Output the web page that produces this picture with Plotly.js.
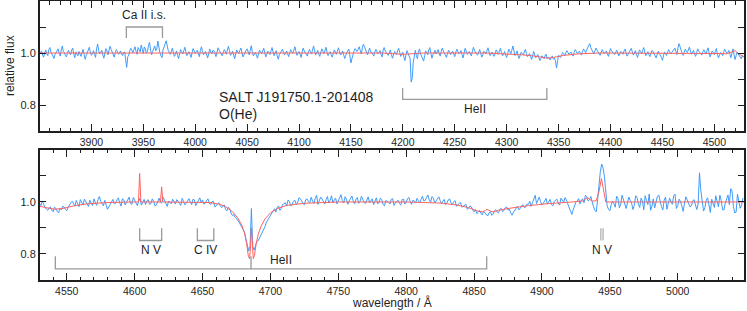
<!DOCTYPE html>
<html>
<head>
<meta charset="utf-8">
<script src="https://cdn.plot.ly/plotly-3.0.1.min.js"></script>
<style>html,body{margin:0;padding:0;background:#fff;}#chart{width:747px;height:311px;}</style>
</head>
<body>
<div id="chart"></div>
<script>
// ---------------- DATA ----------------
// Top panel: observed spectrum, uniform 1 Å sampling starting at 3850 Å
var topObsStart = 3850;
var topObsStep = 1;
var topObsFlux = [
0.995,1.003,1.008,0.992,0.984,1.001,1.012,0.997,0.990,1.013,1.021,1.004,0.996,0.986,0.979,0.995,1.004,1.009,1.016,0.998,0.988,1.012,1.027,1.006,1.001,0.990,0.985,1.002,1.010,0.999,0.993,1.011,1.019,0.996,0.982,1.004,0.998,0.989,1.006,0.994,
0.987,1.001,1.014,0.995,0.976,0.990,1.003,1.012,1.022,1.004,0.991,0.998,1.009,0.994,0.983,1.015,1.035,1.010,0.997,1.003,1.011,0.992,0.980,1.000,1.017,1.008,0.993,1.011,1.026,1.014,1.002,0.991,0.984,1.002,1.013,1.006,0.995,0.999,1.008,0.996,
0.990,1.002,1.004,0.975,0.945,0.985,0.992,1.009,1.018,1.010,1.001,1.013,1.024,1.007,0.995,1.021,1.012,1.004,1.031,1.012,0.998,1.023,1.016,0.999,1.006,1.028,1.041,1.011,0.993,1.006,1.020,1.027,1.009,1.015,1.046,1.019,1.001,0.990,0.982,1.012,
1.028,1.035,1.047,1.022,1.010,1.003,0.995,1.007,1.019,1.001,0.987,0.996,1.008,0.991,0.978,0.997,1.013,1.005,0.996,1.009,1.022,1.004,0.990,0.998,1.005,0.994,0.983,1.002,1.017,1.008,0.999,1.005,1.011,0.997,0.986,1.010,1.024,1.007,0.994,0.999,
1.006,0.993,0.981,0.998,1.015,1.004,0.997,1.010,1.009,0.999,0.986,1.003,1.020,1.011,1.002,0.994,0.989,1.001,1.013,1.006,0.995,1.012,1.026,1.009,0.991,0.997,1.007,0.992,0.978,0.996,1.012,1.004,0.998,1.010,1.019,1.001,0.985,0.993,1.004,1.011,
1.016,1.002,0.993,1.010,1.028,1.006,0.989,0.996,1.003,0.991,0.980,0.998,1.011,1.004,0.997,1.008,1.018,1.000,0.985,0.996,1.007,1.001,0.994,1.009,1.021,1.004,0.990,1.000,1.009,0.989,0.976,0.993,1.002,1.010,1.015,1.003,0.992,0.999,1.008,0.997,
0.986,1.001,1.013,1.005,0.999,1.011,1.024,1.007,0.991,0.999,1.006,0.995,0.983,1.003,1.019,1.008,1.001,0.994,0.988,1.002,1.014,1.006,0.996,1.011,1.027,1.009,0.993,1.000,1.010,0.996,0.987,1.004,1.016,1.007,0.998,1.010,1.022,1.003,0.990,0.998,
1.005,0.994,0.984,0.999,1.012,1.004,0.995,1.008,1.020,1.006,0.992,0.997,1.008,0.993,0.979,0.991,1.003,1.010,1.015,0.984,0.962,0.979,0.998,1.008,1.017,1.012,1.006,1.015,1.024,1.009,0.996,1.020,1.034,1.025,1.011,1.002,0.993,1.007,1.019,1.004,
1.003,0.996,0.988,1.004,1.014,1.006,0.997,1.002,1.009,0.995,0.985,1.011,1.021,1.008,1.000,0.996,0.991,1.003,1.012,0.994,0.980,0.992,1.006,1.001,0.994,1.010,1.018,1.002,0.987,0.996,1.003,0.985,0.971,0.993,1.009,0.999,0.990,0.979,0.888,0.902,
0.962,0.995,1.010,0.991,0.978,1.003,1.016,0.997,0.985,0.976,0.969,0.990,1.008,1.002,0.993,1.012,1.021,0.999,0.980,0.993,1.004,1.010,0.996,1.004,1.013,0.997,0.988,1.006,1.019,1.008,0.999,0.990,0.983,0.998,1.011,1.003,0.994,1.001,1.007,0.996,
0.986,1.003,1.015,1.006,0.997,1.002,1.009,0.994,0.981,0.999,1.018,1.008,0.995,1.001,1.006,0.996,0.989,1.007,1.022,1.010,1.001,0.995,0.992,1.004,1.013,0.999,0.984,0.993,1.007,1.002,0.996,1.009,1.020,1.005,0.990,0.997,1.004,0.993,0.987,1.000,
1.012,1.003,0.995,1.007,1.018,1.001,0.989,0.996,1.006,0.992,0.983,0.998,1.015,1.006,0.997,1.011,1.027,1.009,0.990,0.997,1.008,0.990,0.979,0.992,1.003,0.998,0.993,1.004,1.014,0.999,0.986,0.991,0.998,0.987,0.975,0.989,1.006,0.993,0.982,0.988,
0.994,0.983,0.971,0.980,0.989,0.986,0.978,0.990,0.996,0.979,0.984,0.981,0.973,0.985,0.988,0.976,0.980,0.970,0.942,0.968,0.991,0.986,0.983,0.994,1.002,0.997,0.990,1.001,1.009,1.002,0.995,0.998,1.004,0.996,0.988,1.003,1.013,1.007,0.998,1.001,
1.007,0.999,0.992,1.004,1.016,1.009,1.001,1.012,1.022,1.030,1.036,1.021,1.010,1.002,0.996,1.008,1.019,1.011,1.004,0.996,0.991,1.003,1.013,1.005,0.998,1.002,1.008,0.997,0.987,1.001,1.017,1.009,1.002,0.997,0.994,1.004,1.011,1.000,0.989,0.998,
1.006,1.001,0.995,1.007,1.015,1.002,0.988,0.995,1.003,1.011,1.018,1.005,0.992,1.000,1.009,0.994,0.983,0.998,1.012,1.006,0.997,1.010,1.021,1.004,0.990,0.997,1.005,0.993,0.986,0.999,1.010,1.005,0.998,0.990,0.981,0.995,1.007,0.998,0.993,0.984,
0.972,0.990,1.004,0.998,0.990,1.003,1.013,1.005,0.996,1.002,1.008,1.012,1.019,1.006,0.994,1.020,1.036,1.024,1.009,0.999,0.991,1.004,1.015,1.009,1.002,1.011,1.023,1.008,0.995,1.003,1.010,0.996,0.987,1.002,1.016,1.008,1.001,0.997,0.992,1.005,
1.012,1.004,0.996,1.009,1.020,1.001,0.985,0.997,1.008,1.002,0.993,1.006,1.017,0.994,0.981,0.992,1.002,0.998,0.990,1.003,1.014,1.008,0.997,1.002,1.010,0.995,0.982,0.999,1.016,0.993,0.975,0.990,1.004,0.996,0.988,0.982,0.978,0.990,0.985
];
// Top panel: model spectrum
var topModelWave = [3850,4180,4192,4200,4208,4220,4280,4300,4315,4325,4335,4340,4345,4355,4370,4390,4505,4512,4517,4520,4523,4529];
var topModelFlux = [1.000,1.000,0.997,0.995,0.997,1.000,1.000,0.997,0.993,0.989,0.983,0.980,0.983,0.991,0.997,1.000,0.998,0.997,1.004,1.009,0.998,0.984];

// Bottom panel: observed spectrum, uniform 1 Å sampling starting at 4530 Å
var botObsStart = 4530;
var botObsStep = 1;
var botObsFlux = [
0.995,0.986,1.004,0.991,0.979,0.973,0.968,0.977,0.981,0.969,0.962,0.980,0.975,0.964,0.958,0.976,0.970,0.983,0.981,0.972,0.966,0.979,0.990,0.997,1.003,0.991,0.984,1.006,0.996,0.982,1.009,0.995,0.988,1.011,1.002,0.990,0.983,1.007,0.998,0.986,
1.012,0.998,0.987,1.009,1.021,1.003,0.993,0.985,1.006,0.990,0.972,0.981,0.989,1.002,1.010,0.993,0.995,1.008,1.016,0.997,0.984,1.013,1.008,0.989,0.998,1.006,1.019,0.994,0.991,1.017,1.005,0.992,0.986,1.003,1.014,0.988,1.001,1.010,0.990,1.004,
1.009,0.991,0.994,1.012,1.003,0.985,0.988,1.006,1.015,0.999,0.996,1.018,1.007,0.990,0.983,1.004,0.999,0.993,1.011,1.002,0.992,1.009,1.004,0.996,0.987,1.014,1.002,0.989,0.995,1.007,1.013,1.000,0.990,1.011,1.008,0.986,0.997,1.005,1.016,0.998,
1.008,0.992,0.995,1.006,1.012,0.996,0.990,1.001,1.003,0.982,0.985,0.992,0.997,0.986,0.978,0.983,0.989,0.971,0.966,0.980,0.975,0.957,0.948,0.952,0.941,0.937,0.926,0.921,0.912,0.904,0.893,0.881,0.862,0.834,0.812,0.830,0.975,0.828,0.815,0.832,
0.848,0.851,0.862,0.876,0.884,0.893,0.905,0.922,0.931,0.940,0.952,0.957,0.968,0.974,0.961,0.979,0.985,0.968,0.976,0.991,0.993,0.998,0.984,1.008,1.001,0.985,0.990,1.003,1.007,0.992,0.996,1.016,1.013,1.002,0.994,0.989,1.009,1.012,1.001,0.997,
1.018,1.004,0.995,1.013,1.026,0.991,1.003,1.019,1.012,0.998,0.992,1.009,1.021,0.996,1.006,1.024,0.997,1.008,1.015,0.993,1.002,1.016,1.028,1.005,0.996,1.020,1.011,0.991,1.004,1.014,1.023,1.003,0.993,1.011,1.017,0.995,1.001,1.022,1.010,0.999,
0.994,1.008,1.020,0.997,1.005,1.012,0.990,1.001,1.016,0.993,0.998,1.015,1.009,0.990,0.985,1.006,1.003,0.998,0.992,1.010,1.013,0.987,0.996,1.004,1.007,0.995,0.988,1.009,1.011,0.992,0.999,1.013,1.018,1.002,0.991,1.007,1.004,0.996,1.014,1.005,
0.997,1.011,1.022,1.004,1.006,1.017,1.027,1.008,0.999,1.021,1.015,0.996,1.003,1.012,1.020,1.006,0.994,1.003,1.010,0.990,0.996,1.008,1.012,0.997,0.991,1.001,1.005,0.984,0.987,0.995,0.998,0.980,0.983,0.988,0.991,0.972,0.976,0.985,0.982,0.969,
0.962,0.971,0.955,0.960,0.968,0.957,0.950,0.964,0.959,0.952,0.946,0.958,0.962,0.949,0.953,0.966,0.970,0.961,0.958,0.972,0.975,0.963,0.967,0.978,0.981,0.969,0.972,0.958,0.949,0.961,0.968,0.977,0.984,0.970,0.975,0.986,0.989,0.979,0.980,0.992,
0.991,1.003,0.983,0.997,1.012,1.026,0.994,1.006,1.019,1.001,0.988,0.995,1.003,1.014,0.992,0.999,1.010,0.990,0.985,1.002,1.006,1.011,0.996,0.988,1.015,1.004,0.999,1.017,1.008,0.993,0.977,0.965,0.952,0.970,0.989,1.000,1.004,1.013,0.993,1.008,
1.012,0.997,1.026,1.018,1.004,1.009,1.021,0.995,0.981,0.968,0.962,1.010,1.075,1.118,1.146,1.131,1.098,1.040,0.985,0.972,0.966,0.990,1.004,0.993,0.980,1.022,1.013,0.978,0.992,1.026,1.008,0.983,0.975,0.998,1.019,1.006,0.996,0.971,0.987,1.024,
1.018,0.992,0.979,1.015,1.003,0.970,1.024,1.006,0.990,1.031,0.968,0.984,1.012,0.977,0.995,1.021,1.027,1.003,0.983,0.969,1.006,1.019,0.972,0.993,1.015,1.002,0.991,1.024,1.030,0.975,0.986,1.011,1.002,0.985,0.964,0.996,1.020,1.008,0.997,0.981,
0.985,1.003,1.009,0.994,0.971,0.992,1.112,1.045,1.004,0.965,0.978,1.007,1.016,0.989,0.960,1.011,0.993,0.979,1.024,1.000,0.981,1.026,1.007,0.970,0.969,0.995,1.013,1.027,0.990,1.051,1.042,0.982,0.958,0.961,1.030,1.004,0.976,0.988,1.015
];
// Bottom panel: model spectrum
var botModelWave = [4530.3,4535,4541,4548,4555,4565,4580,4600,4602.8,4603.7,4604.6,4619,4619.9,4620.8,4640,4655,4662,4667,4672,4676,4679,4681,4682.5,4683.8,4684.6,4685.3,4686,4686.7,4687.4,4688.3,4689.5,4691,4693,4696,4700,4705,4712,4725,4750,4800,4825,4838,4846,4852,4856,4858.5,4859.5,4861,4864,4868,4875,4890,4905,4920,4930,4933.5,4937,4940,4942,4943.8,4945.5,4947,5049];
var botModelFlux = [0.983,0.978,0.972,0.976,0.985,0.993,0.998,1.000,1.000,1.110,1.000,1.000,1.058,1.000,1.000,0.998,0.992,0.982,0.963,0.938,0.910,0.880,0.840,0.790,0.782,0.820,0.900,0.820,0.782,0.795,0.840,0.875,0.905,0.935,0.958,0.975,0.987,0.995,1.000,1.000,0.996,0.988,0.978,0.966,0.962,0.968,0.972,0.967,0.962,0.968,0.975,0.986,0.994,0.999,1.004,1.017,1.003,1.005,1.040,1.090,1.040,1.000,1.000];

// Line identifications (Å)
var caIIis = [3933.66, 3968.47];
var heIITop = [4199.8, 4338.7];
var nVBlue = [4603.7, 4619.9];
var cIV = [4646.2, 4658.3];
var nVRed = [4943.4, 4945.0];
var heIIBot = [4541.6, 4685.7, 4859.3];

var xRangeTop = [3850.5, 4528.6];
var xRangeBot = [4530.3, 5048.8];
var yRange = [0.7, 1.2];
var yTickVals = [0.8, 0.9, 1.0, 1.1];
var yTickText = ['0.8', '', '1.0', ''];

// ---------------- BUILD ----------------
function grid(start, step, n){ var a=[]; for(var i=0;i<n;i++) a.push(start+step*i); return a; }
var topObsWave = grid(topObsStart, topObsStep, topObsFlux.length);
var botObsWave = grid(botObsStart, botObsStep, botObsFlux.length);

var BLUE = '#3f9bfa', RED = '#ff6262', INK = '#1f1f1f', GRAY = '#9a9a9a';
var FONT = 'Liberation Sans, Arial, Helvetica, sans-serif';

var traces = [
  {x: topObsWave, y: topObsFlux, xaxis:'x', yaxis:'y', type:'scatter', mode:'lines', line:{color:BLUE, width:1}, hoverinfo:'skip'},
  {x: topModelWave, y: topModelFlux, xaxis:'x', yaxis:'y', type:'scatter', mode:'lines', line:{color:RED, width:1}, hoverinfo:'skip'},
  {x: botObsWave, y: botObsFlux, xaxis:'x2', yaxis:'y2', type:'scatter', mode:'lines', line:{color:BLUE, width:1}, hoverinfo:'skip'},
  {x: botModelWave, y: botModelFlux, xaxis:'x2', yaxis:'y2', type:'scatter', mode:'lines', line:{color:RED, width:1}, hoverinfo:'skip'}
];

function xAxis(range, anchor){
  return {
    range: range, anchor: anchor, showline:true, linecolor:INK, linewidth:2, mirror:'allticks',
    ticks:'inside', ticklen:7, tickwidth:1, tickcolor:INK, dtick:50, tick0:0,
    minor:{dtick:10, ticks:'inside', ticklen:3.5, tickwidth:1, tickcolor:INK},
    showgrid:false, zeroline:false, tickfont:{family:FONT, size:10.5, color:INK}
  };
}
function yAxis(domain, anchor){
  return {
    domain: domain, anchor: anchor, range: yRange, showline:true, linecolor:INK, linewidth:2, mirror:'allticks',
    ticks:'inside', ticklen:6, tickwidth:1, tickcolor:INK, tickmode:'array', tickvals:yTickVals, ticktext:yTickText,
    showgrid:false, zeroline:false, tickfont:{family:FONT, size:11, color:INK}
  };
}

function bracketPath(xs, yLeg, yBar){
  var p = 'M'+xs[0]+','+yLeg+' L'+xs[0]+','+yBar+' L'+xs[xs.length-1]+','+yBar+' L'+xs[xs.length-1]+','+yLeg;
  for (var i=1;i<xs.length-1;i++) p += ' M'+xs[i]+','+yBar+' L'+xs[i]+','+yLeg;
  return p;
}
function shape(xref, yref, path){
  return {type:'path', xref:xref, yref:yref, path:path, line:{color:GRAY, width:1.3}};
}
function vline(xref, yref, x, y0, y1){
  return {type:'line', xref:xref, yref:yref, x0:x, x1:x, y0:y0, y1:y1, line:{color:GRAY, width:1}};
}
function mid(a){ return (a[0]+a[a.length-1])/2; }

var shapes = [
  shape('x','y', bracketPath(caIIis, 1.058, 1.100)),
  shape('x','y', bracketPath(heIITop, 0.865, 0.822)),
  shape('x2','y2', bracketPath(nVBlue, 0.899, 0.852)),
  shape('x2','y2', bracketPath(cIV, 0.899, 0.852)),
  vline('x2','y2', nVRed[0], 0.852, 0.899),
  vline('x2','y2', nVRed[1], 0.852, 0.899),
  shape('x2','y2', bracketPath(heIIBot, 0.791, 0.743))
];

function label(xref, yref, x, y, text, size, xanchor){
  return {xref:xref, yref:yref, x:x, y:y, text:text, showarrow:false, xanchor:xanchor||'center', yanchor:'middle',
          font:{family:FONT, size:size||12, color:INK}};
}

var annotations = [
  label('x','y', mid(caIIis), 1.147, 'Ca II i.s.'),
  label('x','y', mid(heIITop), 0.784, 'HeII'),
  label('x2','y2', mid(nVBlue), 0.816, 'N V'),
  label('x2','y2', mid(cIV), 0.816, 'C IV'),
  label('x2','y2', mid(nVRed), 0.816, 'N V'),
  label('x2','y2', 4708, 0.778, 'HeII'),
  label('paper','y', 0.2514, 0.830, 'SALT J191750.1-201408', 14, 'left'),
  label('paper','y', 0.2514, 0.767, 'O(He)', 14, 'left'),
  {xref:'paper', yref:'paper', x:0, xshift:-30, y:0.767, text:'relative flux', textangle:-90, showarrow:false,
   xanchor:'center', yanchor:'middle', font:{family:FONT, size:12, color:INK}},
  {xref:'paper', yref:'paper', x:0.5, y:0, yshift:-22, text:'wavelength / Å', showarrow:false,
   xanchor:'center', yanchor:'middle', font:{family:FONT, size:12, color:INK}}
];

var layout = {
  width:747, height:311, margin:{l:40, r:3, t:1, b:31},
  paper_bgcolor:'#fff', plot_bgcolor:'#fff', showlegend:false,
  xaxis: xAxis(xRangeTop, 'y'),
  yaxis: yAxis([0.534, 1], 'x'),
  xaxis2: xAxis(xRangeBot, 'y2'),
  yaxis2: yAxis([0, 0.466], 'x2'),
  shapes: shapes,
  annotations: annotations,
  font:{family:FONT, color:INK}
};

Plotly.newPlot('chart', traces, layout, {staticPlot:true, displayModeBar:false});
</script>
</body>
</html>
